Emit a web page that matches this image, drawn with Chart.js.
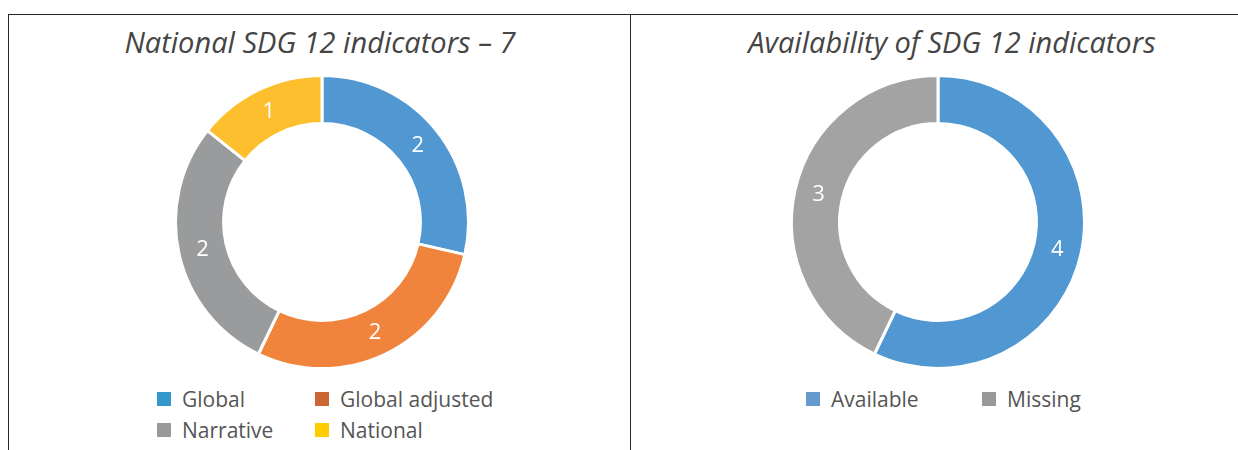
<!DOCTYPE html>
<html>
<head>
<meta charset="utf-8">
<script src="https://cdn.jsdelivr.net/npm/chart.js@4.4.1/dist/chart.umd.min.js"></script>
<style>
    html, body {
        margin: 0;
        padding: 0;
        background: #ffffff;
        width: 1238px;
        height: 450px;
        overflow: hidden;
        position: relative;
        font-family: "Open Sans", "Noto Sans", sans-serif;
    }
    .frame-top {
        position: absolute;
        left: 8px;
        top: 14px;
        width: 1240px;
        height: 0;
        border-top: 1px solid #262626;
    }
    .vline {
        position: absolute;
        top: 14px;
        width: 0;
        height: 440px;
        border-left: 1px solid #262626;
    }
    .title {
        position: absolute;
        top: 22px;
        transform: translateX(-50%);
        white-space: nowrap;
        font-style: italic;
        font-size: 29px;
        color: #454545;
    }
    canvas {
        position: absolute;
    }
    .legend {
        position: absolute;
        font-size: 21px;
        color: #555555;
    }
    .legend .item {
        position: absolute;
        display: flex;
        align-items: center;
        height: 24px;
        line-height: 24px;
        white-space: nowrap;
    }
    .legend .box {
        display: inline-block;
        width: 14px;
        height: 14px;
        margin-right: 11px;
    }
</style>
</head>
<body>
<div class="frame-top"></div>
<div class="vline" style="left:8px"></div>
<div class="vline" style="left:630px"></div>

<div class="title" style="left:320px">National SDG 12 indicators – 7</div>
<div class="title" style="left:952px">Availability of SDG 12 indicators</div>

<canvas id="typeChart" width="320" height="320" style="left:162px; top:62px"></canvas>
<canvas id="availChart" width="320" height="320" style="left:778px; top:62px"></canvas>

<div class="legend" id="typeLegend"></div>
<div class="legend" id="availLegend"></div>

<script>
// Chart data
const typeLabels = ['Global', 'Global adjusted', 'Narrative', 'National'];
const typeValues = [2, 2, 2, 1];
const typeColors = ['#5198d2', '#f0843c', '#999b9c', '#fdbf2d'];
const typeLegendColors = ['#3399cc', '#cc6633', '#999999', '#ffcc00'];

const availLabels = ['Available', 'Missing'];
const availValues = [4, 3];
const availColors = ['#5198d2', '#a3a3a3'];
const availLegendColors = ['#6699cc', '#999999'];

// Draw the value of each slice in white at its centre
const sliceLabels = {
    id: 'sliceLabels',
    afterDatasetsDraw(chart) {
        const ctx = chart.ctx;
        const meta = chart.getDatasetMeta(0);
        const values = chart.data.datasets[0].data;
        ctx.save();
        ctx.fillStyle = '#ffffff';
        ctx.font = '22px "Open Sans", sans-serif';
        ctx.textAlign = 'center';
        ctx.textBaseline = 'middle';
        meta.data.forEach((arc, i) => {
            const pos = arc.tooltipPosition();
            ctx.fillText(values[i], pos.x, pos.y);
        });
        ctx.restore();
    }
};

function createDonut(canvasId, labels, values, colors) {
    const ctx = document.getElementById(canvasId).getContext('2d');
    return new Chart(ctx, {
        type: 'doughnut',
        data: {
            labels: labels,
            datasets: [{
                data: values,
                backgroundColor: colors,
                borderColor: '#ffffff',
                borderWidth: 3,
                hoverOffset: 0
            }]
        },
        options: {
            responsive: false,
            animation: false,
            radius: 146.5,
            cutout: '67.2%',
            plugins: {
                legend: { display: false },
                title: { display: false },
                tooltip: { enabled: false }
            }
        },
        plugins: [sliceLabels]
    });
}

// Legend laid out as a grid under each donut
function buildLegend(elId, labels, colors, spots) {
    const el = document.getElementById(elId);
    labels.forEach((label, i) => {
        const item = document.createElement('div');
        item.className = 'item';
        item.style.left = spots[i][0] + 'px';
        item.style.top = spots[i][1] + 'px';
        item.innerHTML = `<span class="box" style="background:${colors[i]}"></span><span>${label}</span>`;
        el.appendChild(item);
    });
}

createDonut('typeChart', typeLabels, typeValues, typeColors);
createDonut('availChart', availLabels, availValues, availColors);

buildLegend('typeLegend', typeLabels, typeLegendColors,
    [[157, 387], [315, 387], [157, 418], [315, 418]]);
buildLegend('availLegend', availLabels, availLegendColors,
    [[806, 387], [982, 387]]);
</script>
</body>
</html>
